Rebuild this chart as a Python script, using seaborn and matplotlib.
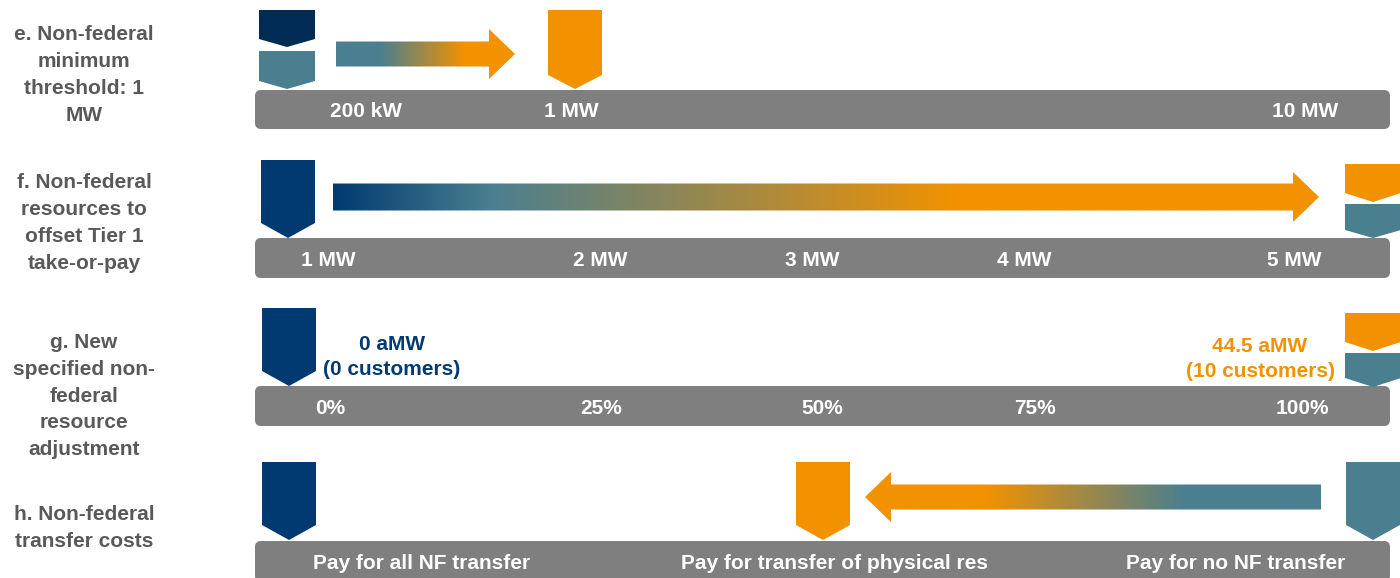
import numpy as np
import matplotlib
matplotlib.use("Agg")
import matplotlib.pyplot as plt
from matplotlib.patches import FancyBboxPatch, Polygon
import seaborn as sns

# row titles (left column)
row_titles = [
    "e. Non-federal\nminimum\nthreshold: 1\nMW",
    "f. Non-federal\nresources to\noffset Tier 1\ntake-or-pay",
    "g. New\nspecified non-\nfederal\nresource\nadjustment",
    "h. Non-federal\ntransfer costs",
]

# scale labels on each grey bar
e_ticks = ["200 kW", "1 MW", "10 MW"]
f_ticks = ["1 MW", "2 MW", "3 MW", "4 MW", "5 MW"]
g_ticks = ["0%", "25%", "50%", "75%", "100%"]
h_ticks = ["Pay for all NF transfer", "Pay for transfer of physical res", "Pay for no NF transfer"]

# where the labels sit along the bar (0 = left end, 1 = right end)
e_pos = [0.098, 0.279, 0.925]
f_pos = [0.065, 0.304, 0.491, 0.678, 0.916]
g_pos = [0.066, 0.305, 0.500, 0.687, 0.923]
h_pos = [0.147, 0.511, 0.864]

g_left_note = "0 aMW\n(0 customers)"
g_right_note = "44.5 aMW\n(10 customers)"

NAVY = "#003a70"
DARK_NAVY = "#002b54"
TEAL = "#4a7f90"
ORANGE = "#f39200"
BAR_GREY = "#7f7f7f"
TITLE_GREY = "#595959"

W, H = 1400, 578
BAR_X0, BAR_X1 = 255, 1390
FS = 15


def marker(ax, x0, top, side_bottom, tip, color, w=54):
    pts = [(x0, top), (x0 + w, top), (x0 + w, side_bottom),
           (x0 + w / 2, tip), (x0, side_bottom)]
    ax.add_patch(Polygon(pts, closed=True, facecolor=color, edgecolor="none", zorder=3))


def grey_bar(ax, top, bottom, labels, pos):
    ax.add_patch(FancyBboxPatch((BAR_X0, top), BAR_X1 - BAR_X0, bottom - top,
                                boxstyle="round,pad=0,rounding_size=6",
                                facecolor=BAR_GREY, edgecolor="none", zorder=2))
    yc = (top + bottom) / 2 + 2
    for lab, p in zip(labels, pos):
        ax.text(BAR_X0 + p * (BAR_X1 - BAR_X0), yc, lab, color="white",
                fontsize=FS, fontweight="bold", ha="center", va="center", zorder=4)


def grad_arrow(ax, x_tail, x_tip, yc, shaft_h, head_h, head_len, stops):
    # arrow outline
    d = 1 if x_tip > x_tail else -1
    xb = x_tip - d * head_len
    pts = [(x_tail, yc - shaft_h / 2), (xb, yc - shaft_h / 2), (xb, yc - head_h / 2),
           (x_tip, yc), (xb, yc + head_h / 2), (xb, yc + shaft_h / 2),
           (x_tail, yc + shaft_h / 2)]
    poly = Polygon(pts, closed=True, facecolor="none", edgecolor="none")
    ax.add_patch(poly)
    xs = np.arange(min(x_tail, x_tip), max(x_tail, x_tip) + 1)
    sx = [s[0] for s in stops]
    cols = np.array([matplotlib.colors.to_rgb(s[1]) for s in stops])
    rgb = np.stack([np.interp(xs, sx, cols[:, i]) for i in range(3)], axis=-1)
    img = np.repeat(rgb[None, :, :], 2, axis=0)
    im = ax.imshow(img, extent=(xs[0], xs[-1], yc + head_h / 2, yc - head_h / 2),
                   aspect="auto", interpolation="bilinear", zorder=3)
    im.set_clip_path(poly)


sns.set_theme(style="white")
plt.rcParams["font.family"] = ["Liberation Sans", "DejaVu Sans"]

fig = plt.figure(figsize=(14, 5.78), dpi=100)
ax = fig.add_axes([0, 0, 1, 1])
ax.set_xlim(0, W)
ax.set_ylim(H, 0)
ax.axis("off")

# left titles
for title, yc in zip(row_titles, [75, 223, 396, 528]):
    ax.text(84, yc, title, color=TITLE_GREY, fontsize=FS, fontweight="bold",
            ha="center", va="center", linespacing=1.53)

# row e
grey_bar(ax, 90, 129, e_ticks, e_pos)
marker(ax, 259, 10, 39, 47, DARK_NAVY, w=56)
marker(ax, 259, 51, 81, 89, TEAL, w=56)
marker(ax, 548, 10, 75, 89, ORANGE)
grad_arrow(ax, 336, 515, 54, 25, 50, 26,
           [(336, TEAL), (380, TEAL), (465, ORANGE), (515, ORANGE)])

# row f
grey_bar(ax, 238, 278, f_ticks, f_pos)
marker(ax, 261, 160, 223, 238, NAVY)
marker(ax, 1345, 164, 193, 202, ORANGE, w=56)
marker(ax, 1345, 204, 230, 238, TEAL, w=56)
grad_arrow(ax, 333, 1319, 197, 27, 50, 26,
           [(333, NAVY), (490, TEAL), (960, ORANGE), (1319, ORANGE)])

# row g
grey_bar(ax, 386, 426, g_ticks, g_pos)
marker(ax, 262, 308, 371, 386, NAVY)
marker(ax, 1345, 313, 342, 351, ORANGE, w=56)
marker(ax, 1345, 353, 378, 387, TEAL, w=56)
ax.text(392, 357, g_left_note, color=NAVY, fontsize=FS, fontweight="bold",
        ha="center", va="center", linespacing=1.42)
ax.text(1260, 359, g_right_note, color=ORANGE, fontsize=FS, fontweight="bold",
        ha="center", va="center", linespacing=1.42)

# row h
grey_bar(ax, 541, 582, h_ticks, h_pos)
marker(ax, 262, 462, 525, 540, NAVY)
marker(ax, 796, 462, 525, 540, ORANGE)
marker(ax, 1346, 462, 525, 540, TEAL)
grad_arrow(ax, 1321, 865, 497, 25, 50, 26,
           [(865, ORANGE), (985, ORANGE), (1185, TEAL), (1321, TEAL)])

fig.savefig("out.png", dpi=100, facecolor="white")
